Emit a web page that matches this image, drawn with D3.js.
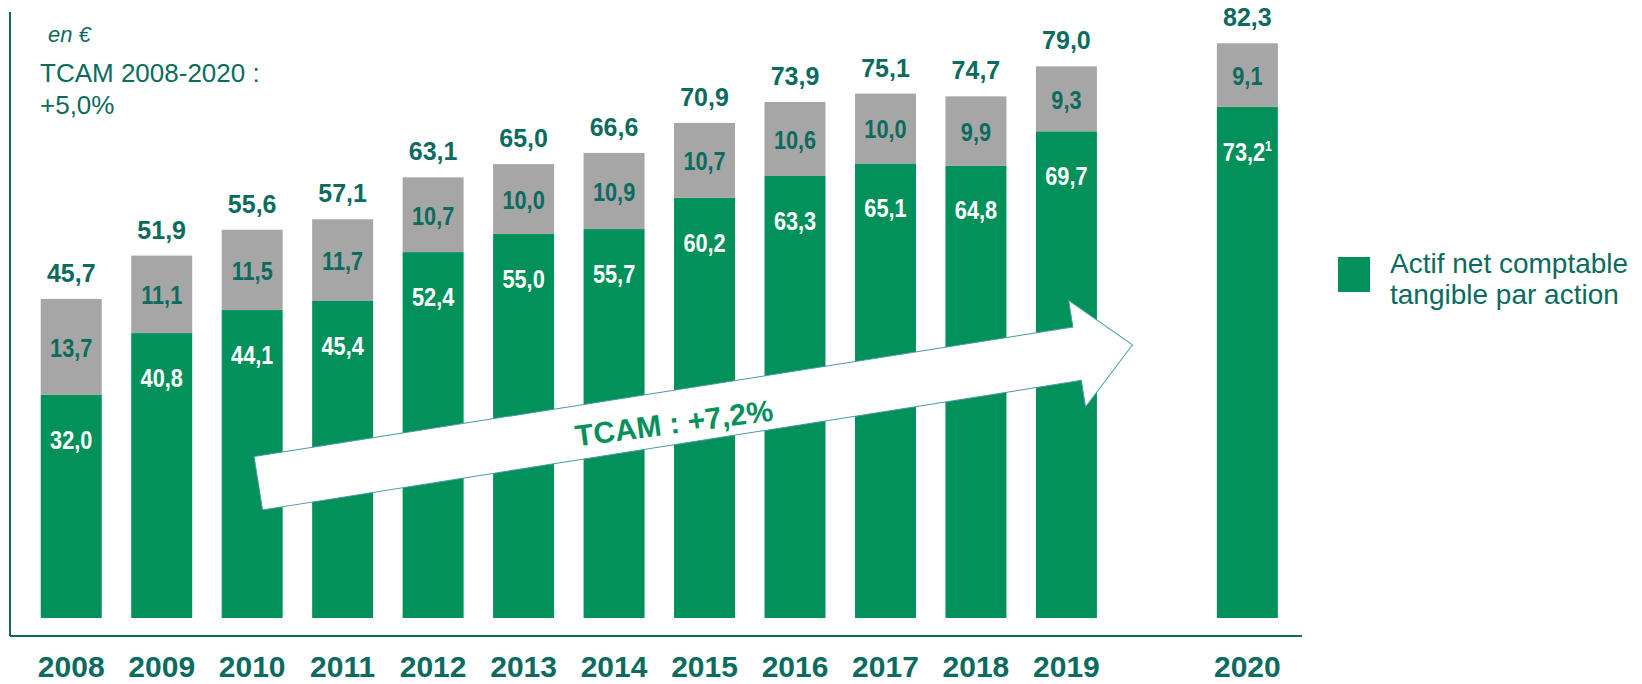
<!DOCTYPE html>
<html>
<head>
<meta charset="utf-8">
<script src="https://cdn.jsdelivr.net/npm/d3@7"></script>
<style>
    body { margin: 0; background: #fff; }
    svg { display: block; font-family: Arial, "Liberation Sans", sans-serif; }
</style>
</head>
<body>
<script>
// data
const years = ["2008","2009","2010","2011","2012","2013","2014","2015","2016","2017","2018","2019","2020"];
const tangible = [32.0, 40.8, 44.1, 45.4, 52.4, 55.0, 55.7, 60.2, 63.3, 65.1, 64.8, 69.7, 73.2];
const intangible = [13.7, 11.1, 11.5, 11.7, 10.7, 10.0, 10.9, 10.7, 10.6, 10.0, 9.9, 9.3, 9.1];
const totals = [45.7, 51.9, 55.6, 57.1, 63.1, 65.0, 66.6, 70.9, 73.9, 75.1, 74.7, 79.0, 82.3];
const footnotes = {"2020": "1"};
const legendLabel = ["Actif net comptable", "tangible par action"];
const unitLabel = "en €";
const cagrNote = ["TCAM 2008-2020 :", "+5,0%"];
const cagrArrow = "TCAM : +7,2%";

const green = "#02915a";
const grey = "#a6a6a6";
const teal = "#0a6b5e";

const width = 1642, height = 684;
const fmt = v => d3.format(".1f")(v).replace(".", ",");

const rows = years.map((y, i) => ({year: y, tangible: tangible[i], intangible: intangible[i], total: totals[i]}));

const svg = d3.select("body").append("svg")
    .attr("width", width)
    .attr("height", height);

// a blank slot before 2020
const slots = years.slice(0, 12).concat([" "], years.slice(12));

const x = d3.scaleBand()
    .domain(slots)
    .range([26, 1292.6])
    .paddingInner(0.326)
    .paddingOuter(0.163);

const y = d3.scaleLinear()
    .domain([0, 88.5])
    .range([618, 0]);

const cx = d => x(d.year) + x.bandwidth() / 2;

// axes lines
svg.append("line")
    .attr("x1", 10).attr("x2", 10)
    .attr("y1", 12).attr("y2", 636)
    .attr("stroke", teal).attr("stroke-width", 2);

svg.append("line")
    .attr("x1", 10).attr("x2", 1302)
    .attr("y1", 636).attr("y2", 636)
    .attr("stroke", teal).attr("stroke-width", 2);

// bars
const bars = svg.append("g").selectAll(".bar")
    .data(rows)
    .enter()
    .append("g")
    .attr("class", "bar");

bars.append("rect")
    .attr("x", d => x(d.year))
    .attr("width", x.bandwidth())
    .attr("y", d => y(d.tangible))
    .attr("height", d => y(0) - y(d.tangible))
    .attr("fill", green);

bars.append("rect")
    .attr("x", d => x(d.year))
    .attr("width", x.bandwidth())
    .attr("y", d => y(d.tangible + d.intangible))
    .attr("height", d => y(d.tangible) - y(d.tangible + d.intangible))
    .attr("fill", grey);

// total on top
bars.append("text")
    .attr("x", cx)
    .attr("y", d => y(d.tangible + d.intangible) - 17)
    .attr("text-anchor", "middle")
    .attr("font-size", 25)
    .attr("font-weight", "bold")
    .attr("fill", teal)
    .text(d => fmt(d.total));

// grey segment labels (narrow look: squeeze horizontally)
bars.append("text")
    .attr("transform", d => `translate(${cx(d)},${(y(d.tangible) + y(d.tangible + d.intangible)) / 2 + 10}) scale(0.82,1)`)
    .attr("text-anchor", "middle")
    .attr("font-size", 26.5)
    .attr("font-weight", "bold")
    .attr("fill", teal)
    .text(d => fmt(d.intangible));

// green segment labels
const gl = bars.append("text")
    .attr("transform", d => `translate(${cx(d)},${y(d.tangible) + 54}) scale(0.82,1)`)
    .attr("text-anchor", "middle")
    .attr("font-size", 26.5)
    .attr("font-weight", "bold")
    .attr("fill", "#fff");

gl.append("tspan")
    .text(d => fmt(d.tangible));

gl.filter(d => footnotes[d.year])
    .append("tspan")
    .attr("font-size", 15)
    .attr("dy", -10)
    .text(d => footnotes[d.year]);

// year labels
svg.append("g").selectAll("text")
    .data(years)
    .enter()
    .append("text")
    .attr("x", d => x(d) + x.bandwidth() / 2)
    .attr("y", 677)
    .attr("text-anchor", "middle")
    .attr("font-size", 30)
    .attr("font-weight", "bold")
    .attr("fill", teal)
    .text(d => d);

// notes top left
svg.append("text")
    .attr("x", 48).attr("y", 42)
    .attr("font-size", 22)
    .attr("font-style", "italic")
    .attr("fill", teal)
    .text(unitLabel);

svg.append("g").selectAll("text")
    .data(cagrNote)
    .enter()
    .append("text")
    .attr("x", 40)
    .attr("y", (d, i) => 82 + i * 32)
    .attr("font-size", 26)
    .attr("fill", teal)
    .text(d => d);

// growth arrow, from the 2010 bar to the gap before 2020
const x0 = x("2010") + x.bandwidth() * 0.6, y0 = y(19.3);
const x1 = x(" ") + 6, y1 = y(39.1);
const ang = Math.atan2(y1 - y0, x1 - x0) * 180 / Math.PI;
const len = Math.hypot(x1 - x0, y1 - y0);
const headLen = 56, shaftW = 27, headW = 54;

const arrow = svg.append("g")
    .attr("transform", `translate(${x0},${y0}) rotate(${ang})`);

arrow.append("path")
    .attr("d", d3.line()([
        [0, -shaftW], [len - headLen, -shaftW], [len - headLen, -headW], [len, 0],
        [len - headLen, headW], [len - headLen, shaftW], [0, shaftW]
    ]) + "Z")
    .attr("fill", "#fff")
    .attr("stroke", "#4a98a8")
    .attr("stroke-width", 1);

arrow.append("text")
    .attr("transform", "translate(420,6) rotate(1.5)")
    .attr("y", 10)
    .attr("text-anchor", "middle")
    .attr("font-size", 30)
    .attr("font-weight", "bold")
    .attr("fill", green)
    .text(cagrArrow);

// legend
const legend = svg.append("g").attr("transform", "translate(1338,257)");
legend.append("rect")
    .attr("width", 32).attr("height", 35)
    .attr("fill", green);
legend.selectAll("text")
    .data(legendLabel)
    .enter()
    .append("text")
    .attr("x", 52)
    .attr("y", (d, i) => 16 + i * 31)
    .attr("font-size", 28)
    .attr("fill", teal)
    .text(d => d);
</script>
</body>
</html>
